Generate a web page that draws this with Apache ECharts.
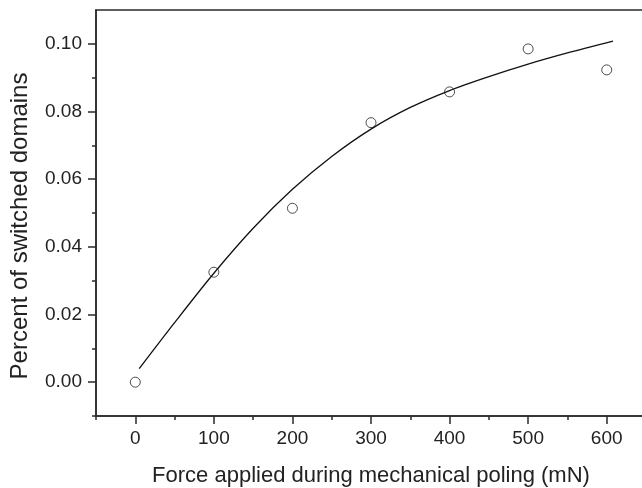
<!DOCTYPE html>
<html>
<head>
<meta charset="utf-8">
<script src="https://cdn.jsdelivr.net/npm/echarts@6/dist/echarts.min.js"></script>
<style>html,body{margin:0;padding:0;background:#fff}#c{width:642px;height:488px}</style>
</head>
<body>
<div id="c"></div>
<script>
const forceValues = [0, 100, 200, 300, 400, 500, 600];
const switchedPercent = [0.000, 0.0325, 0.0514, 0.0767, 0.0858, 0.0985, 0.0923];
const fitForce = [5, 50, 100, 150, 200, 250, 300, 350, 400, 450, 500, 550, 608];
const fitPercent = [0.0040, 0.0176, 0.0322, 0.0455, 0.0570, 0.0667, 0.0748, 0.0812, 0.0862, 0.0903, 0.0940, 0.0973, 0.1008];
const xMajorTicks = [0, 100, 200, 300, 400, 500, 600];
const xMinorTicks = [-50, 50, 150, 250, 350, 450, 550, 650];
const yMajorTicks = [0, 0.02, 0.04, 0.06, 0.08, 0.10];
const yMinorTicks = [-0.01, 0.01, 0.03, 0.05, 0.07, 0.09];
const xTitle = 'Force applied during mechanical poling (mN)';
const yTitle = 'Percent of switched domains';

const axisColor = '#2a2a2a';
const font = 'Liberation Sans, Arial, Helvetica, sans-serif';
const chart = echarts.init(document.getElementById('c'), null, {renderer: 'canvas'});
chart.setOption({
  animation: false,
  backgroundColor: '#fff',
  grid: {left: 96, top: 10, right: -4, bottom: 72, outerBoundsMode: 'none', containLabel: false,
         show: true, borderColor: axisColor, borderWidth: 1.5, backgroundColor: 'transparent'},
  xAxis: [{
    type: 'value', min: -50, max: 650, position: 'bottom',
    splitLine: {show: false},
    axisLine: {show: true, onZero: false, lineStyle: {color: axisColor, width: 1.5}},
    axisTick: {show: true, inside: false, length: 8, customValues: xMajorTicks, lineStyle: {color: axisColor, width: 1.5}},
    axisLabel: {show: true, customValues: xMajorTicks, margin: 13, color: '#222', fontSize: 19, fontFamily: font, formatter: v => String(v)},
    name: xTitle, nameLocation: 'middle', nameGap: 49,
    nameTextStyle: {color: '#222', fontSize: 22, fontFamily: font}
  }, {
    type: 'value', min: -50, max: 650, position: 'bottom',
    splitLine: {show: false},
    axisLine: {show: false, onZero: false},
    axisTick: {show: true, inside: false, length: 4, customValues: xMinorTicks, lineStyle: {color: axisColor, width: 1.5}},
    axisLabel: {show: false}
  }],
  yAxis: [{
    type: 'value', min: -0.01, max: 0.11, position: 'left',
    splitLine: {show: false},
    axisLine: {show: true, onZero: false, lineStyle: {color: axisColor, width: 1.5}},
    axisTick: {show: true, inside: false, length: 8, customValues: yMajorTicks, lineStyle: {color: axisColor, width: 1.5}},
    axisLabel: {show: true, customValues: yMajorTicks, margin: 14, color: '#222', fontSize: 19, fontFamily: font, formatter: v => v.toFixed(2)},
    name: yTitle, nameLocation: 'middle', nameGap: 64, nameRotate: 90,
    nameTextStyle: {color: '#222', fontSize: 24, fontFamily: font, padding: [0, 26, 0, 0]}
  }, {
    type: 'value', min: -0.01, max: 0.11, position: 'left',
    splitLine: {show: false},
    axisLine: {show: false, onZero: false},
    axisTick: {show: true, inside: false, length: 4, customValues: yMinorTicks, lineStyle: {color: axisColor, width: 1.5}},
    axisLabel: {show: false}
  }],
  series: [{
    type: 'line', xAxisIndex: 0, yAxisIndex: 0,
    data: fitForce.map((x, i) => [x, fitPercent[i]]),
    smooth: 0.3, showSymbol: false, symbol: 'none',
    lineStyle: {color: '#111', width: 1.3}
  }, {
    type: 'scatter', xAxisIndex: 0, yAxisIndex: 0,
    data: forceValues.map((x, i) => [x, switchedPercent[i]]),
    symbol: 'circle', symbolSize: 10,
    itemStyle: {color: 'rgba(255,255,255,0)', borderColor: '#222', borderWidth: 1}
  }]
});
</script>
</body>
</html>
